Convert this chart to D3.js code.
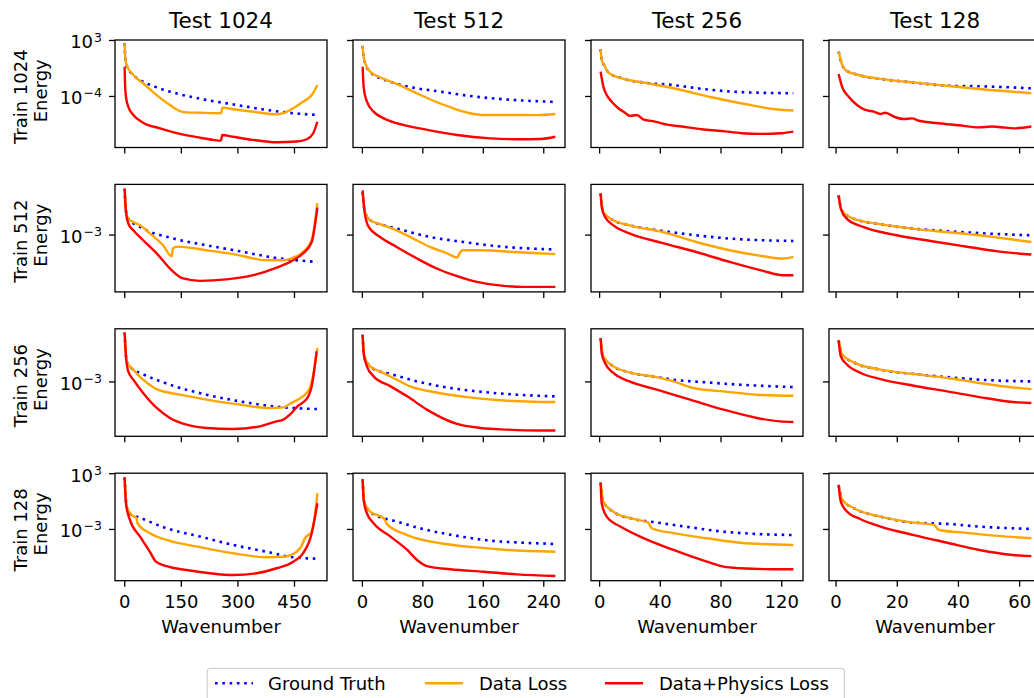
<!DOCTYPE html>
<html>
<head>
<meta charset="utf-8">
<script src="https://cdn.jsdelivr.net/npm/d3@7"></script>
<style>
	body { margin: 0; background: #fff; }
	text { font-family: "DejaVu Sans", sans-serif; fill: #000; }
</style>
</head>
<body>
<svg id="chart"></svg>
<script>
// ==================================================
// DATA
// ==================================================

var trainRes = [1024, 512, 256, 128];
var testRes  = [1024, 512, 256, 128];
var waveMax  = [512, 256, 128, 64];

var xTicks = [[0, 150, 300, 450], [0, 80, 160, 240], [0, 40, 80, 120], [0, 20, 40, 60]];
var yTicks = [[1e3, 1e-4], [1e-3], [1e-3], [1e3, 1e-3]];
var yDomains = [[3.6e-11, 1e3], [1.8e-9, 107], [3.2e-9, 186], [2.7e-9, 1e3]];

var seriesNames = ["Ground Truth", "Data Loss", "Data+Physics Loss"];

// [wavenumber, energy] -- named <series>_<train>_<test>

// Train 1024
var gt_1024_1024 = [[1,4e2],[2,2e1],[3,5],[6,7.5e-1],[24,4e-2],[42,1e-2],[86,1.2e-3],[148,1.6e-4],[218,3.2e-5],[298,7.5e-6],[378,1.8e-6],[448,7e-7],[512,4.2e-7]];
var dl_1024_1024 = [[1,4e2],[2,2e1],[3,5],[6,7.5e-1],[24,4.2e-2],[50,3.9e-3],[86,1.3e-4],[121,7.5e-6],[148,1.3e-6],[165,9e-7],[201,8e-7],[257,7e-7],[260,3.5e-6],[289,2.2e-6],[342,1.1e-6],[404,5e-7],[421,7e-7],[448,2.9e-6],[474,1.9e-5],[497,1.3e-4],[512,2.4e-3]];
var dp_1024_1024 = [[1,4.6e-1],[2,4e-3],[4.5,8e-5],[10.6,4.6e-6],[24,4.2e-7],[50,4.6e-8],[95,9e-9],[148,1.8e-9],[201,6e-10],[236,3.2e-10],[256,2.6e-10],[260,1.3e-9],[289,8e-10],[342,3.2e-10],[404,1.6e-10],[457,2e-10],[484,3.9e-10],[501,2.2e-9],[512,6e-8]];

var gt_1024_512 = [[1,1.8e2],[2.3,8],[4.5,1.2],[11,1e-1],[38,6e-3],[68,1.1e-3],[104,3.5e-4],[143,1e-4],[187,3.9e-5],[223,2.4e-5],[256,1.8e-5]];
var dl_1024_512 = [[1,1.8e2],[2.3,8],[4.5,1.2],[11,1.1e-1],[24,2.2e-2],[46,3.2e-3],[68,3.5e-4],[90,3.9e-5],[117,3.9e-6],[143,7e-7],[161,4.2e-7],[201,4.2e-7],[232,4e-7],[256,5.6e-7]];
var dp_1024_512 = [[1,4.6e-1],[2.3,1.5e-3],[6.7,1.9e-5],[15.5,1.1e-6],[29,1.6e-7],[46,3.9e-8],[82,7e-9],[126,1.3e-9],[170,5e-10],[205,3.9e-10],[236,4.2e-10],[256,8e-10]];

var gt_1024_256 = [[1,7e1],[1.7,3.2],[3.9,4.6e-1],[6,9e-2],[15,1.6e-2],[30,4.6e-3],[48,2.4e-3],[70,6.9e-4],[96,2.9e-4],[128,2.2e-4]];
var dl_1024_256 = [[1,7e1],[1.7,3.2],[3.9,4.6e-1],[6,9e-2],[15,1.6e-2],[30,4.6e-3],[52,6.9e-4],[74,6.9e-5],[96,1e-5],[116,2.2e-6],[128,1.5e-6]];
var dp_1024_256 = [[1,1.1e-1],[2.8,1.5e-3],[5,1.3e-4],[8.3,1.9e-5],[12.7,2.9e-6],[17,8e-7],[20.4,3.2e-7],[24.8,4.2e-7],[29,1.2e-7],[36.8,6.2e-8],[45.6,2.4e-8],[54.4,1.5e-8],[67.6,7e-9],[80.8,4.2e-9],[94,2.2e-9],[107,1.8e-9],[120,2.2e-9],[128,3.5e-9]];

var gt_1024_128 = [[1,3.5e1],[2,1.2],[3.2,1.8e-1],[7.5,4.2e-2],[15.2,1.3e-2],[26,4.6e-3],[37,1.9e-3],[47.9,1.6e-3],[64,9e-4]];
var dl_1024_128 = [[1,3.5e1],[2,1.2],[3.2,1.8e-1],[7.5,4.2e-2],[15.2,1.3e-2],[26,4.6e-3],[37,1.8e-3],[47.9,6.9e-4],[64,2.2e-4]];
var dp_1024_128 = [[1,5.6e-2],[2.1,1.5e-3],[4.3,8e-5],[7,7.5e-6],[9.7,1.8e-6],[12.5,1.1e-6],[14.6,5.6e-7],[16.2,8e-7],[19.5,2.2e-7],[22.3,1.3e-7],[25,1.6e-7],[27.2,8e-8],[33.7,3.9e-8],[40.2,2.2e-8],[46.8,1.2e-8],[51.1,1.5e-8],[55.5,1.1e-8],[58.2,9e-9],[64,1.5e-8]];

// Train 512
var gt_512_1024 = [[1,4e1],[4.5,2.7e-1],[10.6,4e-2],[42,5.8e-3],[130,4e-4],[218,8.5e-5],[307,2.1e-5],[395,5e-6],[512,1.8e-6]];
var dl_512_1024 = [[1,4e1],[4.5,2.7e-1],[10.6,4e-2],[24,1.8e-2],[42,8.5e-3],[68,1.3e-3],[103,8.5e-5],[126,6.8e-6],[129,4e-5],[140,6e-5],[152,5.8e-5],[218,2.7e-5],[289,1.1e-5],[378,2.7e-6],[421,2.7e-6],[448,5e-6],[474,1.8e-5],[497,2.7e-4],[512,1.4]];
var dp_512_1024 = [[1,4e1],[4.5,1.8e-1],[10.6,1.3e-2],[24,2.7e-3],[50,2.7e-4],[86,1.3e-5],[121,4e-7],[156,4e-8],[201,2.3e-8],[271,3.2e-8],[342,8.5e-8],[404,5e-7],[448,2.7e-6],[474,1.3e-5],[497,1.8e-4],[512,5e-1]];

var gt_512_512 = [[1,1.8e1],[3.6,2.7e-1],[11,2.7e-2],[29,8.5e-3],[46,4e-3],[90,5.8e-4],[135,1.8e-4],[179,6.8e-5],[223,4e-5],[256,3.2e-5]];
var dl_512_512 = [[1,1.8e1],[3.6,2.7e-1],[11,2.7e-2],[29,8.5e-3],[46,2.7e-3],[68,4e-4],[90,5.8e-5],[113,1.3e-5],[126,5e-6],[129,1.2e-5],[133,2.7e-5],[157,2.7e-5],[201,1.8e-5],[256,1.1e-5]];
var dp_512_512 = [[1,2.7e1],[3.6,1.8e-1],[9,5.8e-3],[24,5.8e-4],[46,5.8e-5],[73,4e-6],[99,4e-7],[126,6.8e-8],[152,1.8e-8],[179,8.5e-9],[214,5.8e-9],[256,5.8e-9]];

var gt_512_256 = [[1,1.4e1],[2.8,1.8e-1],[9.4,2.7e-2],[20,8.5e-3],[42,2.3e-3],[64,8.5e-4],[86,4e-4],[108,2.7e-4],[128,2.3e-4]];
var dl_512_256 = [[1,1.4e1],[2.8,1.8e-1],[9.4,2.7e-2],[20,8.5e-3],[42,1.8e-3],[64,1.8e-4],[86,2.7e-5],[108,6.8e-6],[121,4e-6],[128,5.8e-6]];
var dp_512_256 = [[1,1.4e1],[1.7,5.8e-1],[3.9,5.8e-2],[9.4,8.5e-3],[20,1.3e-3],[42,1.4e-4],[64,1.8e-5],[86,1.8e-6],[108,2.3e-7],[121,8.5e-8],[128,8.5e-8]];

var gt_512_128 = [[1,8.5],[2,2.7e-1],[5.8,4e-2],[14.5,1.1e-2],[25,4e-3],[36,2.3e-3],[47,1.4e-3],[64,8.5e-4]];
var dl_512_128 = [[1,8.5],[2,2.7e-1],[5.8,4e-2],[14.5,1.1e-2],[25,4e-3],[36,1.8e-3],[47,8.5e-4],[58,3.2e-4],[64,1.8e-4]];
var dp_512_128 = [[1,8.5],[1.7,4e-1],[3.6,4e-2],[9,5.8e-3],[20,8.5e-4],[31,2.3e-4],[42,6.8e-5],[53,2.1e-5],[64,1e-5]];

// Train 256
var gt_256_1024 = [[1,8e1],[6.4,1e-1],[24,1.5e-2],[42,7e-3],[130,3.7e-4],[218,4.7e-5],[307,1e-5],[395,3.2e-6],[512,1.7e-6]];
var dl_256_1024 = [[1,8e1],[6.4,1e-1],[24,1.5e-2],[50,1.5e-3],[86,1.7e-4],[148,4.7e-5],[218,1.5e-5],[307,4.7e-6],[378,2.2e-6],[422,2.5e-6],[439,5.9e-6],[457,1.3e-5],[474,3.2e-5],[492,2.2e-4],[505,3.2e-2],[512,2.2]];
var dp_256_1024 = [[1,8e1],[4.5,3.2e-1],[10.6,1e-2],[24,1.5e-3],[50,7e-5],[86,2.2e-6],[121,2.2e-7],[165,4.7e-8],[218,2.2e-8],[289,1.7e-8],[360,3.2e-8],[404,1e-7],[422,1.5e-7],[439,4.7e-7],[461,3.7e-6],[474,8e-6],[488,3.2e-5],[497,3.2e-4],[505,3.2e-2],[510,1]];

var gt_256_512 = [[1,4.7e1],[3.2,3.2e-1],[11,3.2e-2],[24,1e-2],[33,7e-3],[73,1e-3],[117,2.2e-4],[161,8.7e-5],[205,4.7e-5],[256,3.2e-5]];
var dl_256_512 = [[1,4.7e1],[3.2,3.2e-1],[11,3.2e-2],[24,1e-2],[46,1.5e-3],[64,3.2e-4],[95,8.7e-5],[139,2.7e-5],[183,1.3e-5],[227,9.3e-6],[256,8.7e-6]];
var dp_256_512 = [[1,4.7e1],[2.3,7e-1],[6.7,3.2e-2],[15.5,3.2e-3],[38,3.2e-4],[60,3.2e-5],[86,1.5e-6],[104,2.7e-7],[126,5.5e-8],[157,2.2e-8],[192,1.5e-8],[236,1.2e-8],[256,1.2e-8]];

var gt_256_256 = [[1,2.2e1],[2.8,3.2e-1],[9.4,3.2e-2],[20,8e-3],[38,2.7e-3],[49,1.5e-3],[71,8e-4],[93,4.7e-4],[128,2.7e-4]];
var dl_256_256 = [[1,2.2e1],[2.8,3.2e-1],[9.4,3.2e-2],[20,8e-3],[38,2.7e-3],[49,1e-3],[62,2.2e-4],[82,1e-4],[104,4.7e-5],[128,3.7e-5]];
var dp_256_256 = [[1,2.2e1],[1.7,7e-1],[3.9,7e-2],[9.4,7e-3],[20,1e-3],[38,1.5e-4],[60,1.5e-5],[82,1.5e-6],[104,2.2e-7],[119,1e-7],[128,8.7e-8]];

var gt_256_128 = [[1,1.3e1],[2.2,4.7e-1],[6,8e-2],[14.7,1.5e-2],[25.6,5.5e-3],[36.5,2.7e-3],[47,1.5e-3],[64,1e-3]];
var dl_256_128 = [[1,1.3e1],[2.2,4.7e-1],[6,8e-2],[14.7,1.5e-2],[25.6,5.5e-3],[36.5,2.2e-3],[47,7e-4],[58,2.5e-4],[64,1.7e-4]];
var dp_256_128 = [[1,1.3e1],[1.7,3.2e-1],[3.8,4.7e-2],[8.2,7e-3],[14.7,1.7e-3],[25.6,3.7e-4],[36.5,1e-4],[47,2.7e-5],[58,8.7e-6],[64,7e-6]];

// Train 128
var gt_128_1024 = [[1,3.7e2],[6.4,2.5e-1],[19.6,3.2e-2],[33,2.1e-2],[112,1.2e-3],[201,1.5e-4],[289,1.9e-5],[378,3.5e-6],[448,8.9e-7],[512,6.3e-7]];
var dl_128_1024 = [[1,3.7e2],[6.4,2.5e-1],[19.6,3.2e-2],[33,1.4e-2],[35,4.1e-3],[68,3.5e-4],[112,6.5e-5],[201,1.1e-5],[289,2.4e-6],[378,8.9e-7],[421,1e-6],[457,3.5e-6],[470,1.5e-5],[479,1e-4],[497,5.1e-4],[505,2.1e-2],[512,7.1]];
var dp_128_1024 = [[1,3.7e2],[4.5,5.9e-1],[15,9.3e-3],[42,1.5e-4],[68,3.5e-6],[84,3e-7],[112,1e-7],[165,3.8e-8],[227,1.7e-8],[289,1.1e-8],[351,1.7e-8],[404,5.9e-8],[448,3e-7],[474,2.4e-6],[497,3.5e-4],[505,1.4e-2],[512,5.9e-1]];

var gt_128_512 = [[1,2.3e2],[3.2,8.7e-1],[11,7.2e-2],[29,1.4e-2],[38,9.3e-3],[82,9.3e-4],[126,1.8e-4],[170,5.5e-5],[214,3.3e-5],[256,2.4e-5]];
var dl_128_512 = [[1,2.3e2],[3.2,8.7e-1],[11,7.2e-2],[29,1.4e-2],[33,3.5e-3],[60,2.2e-4],[104,2.9e-5],[148,1.1e-5],[192,5.5e-6],[256,3.5e-6]];
var dp_128_512 = [[1,2.3e2],[2.3,1.3],[6.7,4.9e-2],[15.5,4.1e-3],[38,1.5e-4],[60,5.5e-6],[73,4.6e-7],[86,1e-7],[117,4.6e-8],[161,2.5e-8],[205,1.3e-8],[256,8.7e-9]];

var gt_128_256 = [[1,9.8e1],[2.8,8.7e-1],[9.4,7.2e-2],[22.5,1.2e-2],[38,5e-3],[60,1.5e-3],[82,5.1e-4],[104,2.9e-4],[128,2.2e-4]];
var dl_128_256 = [[1,9.8e1],[2.8,8.7e-1],[9.4,7.2e-2],[22.5,1.2e-2],[32.4,4.8e-3],[34.6,1.2e-3],[49,3.5e-4],[71,1e-4],[93,3.3e-5],[128,1.9e-5]];
var dp_128_256 = [[1,9.8e1],[1.7,5.9e-1],[5,2.1e-2],[14,1.8e-3],[27,1.5e-4],[49,5.5e-6],[71,3e-7],[82,8.7e-8],[93,5.9e-8],[115,4.6e-8],[128,4.6e-8]];

var gt_128_128 = [[1,5.5e1],[2.2,1.3],[6,1.7e-1],[14.7,2.1e-2],[25.6,4.8e-3],[36.5,3.5e-3],[47,1.8e-3],[64,1e-3]];
var dl_128_128 = [[1,5.5e1],[2.2,1.3],[6,1.7e-1],[14.7,2.1e-2],[25.6,4.8e-3],[32.2,2.7e-3],[33.8,7.8e-4],[42,4e-4],[53,1.8e-4],[64,1e-4]];
var dp_128_128 = [[1,5.5e1],[1.7,8.7e-1],[3.8,7.2e-2],[8.2,1.1e-2],[14.7,1.8e-3],[25.6,2.2e-4],[36.5,3.3e-5],[47,5.5e-6],[58,1.6e-6],[64,1.2e-6]];

// Panel lookup [row][col] -> [truth, data loss, data+physics loss]
var panels = [
	[[gt_1024_1024, dl_1024_1024, dp_1024_1024], [gt_1024_512, dl_1024_512, dp_1024_512], [gt_1024_256, dl_1024_256, dp_1024_256], [gt_1024_128, dl_1024_128, dp_1024_128]],
	[[gt_512_1024, dl_512_1024, dp_512_1024], [gt_512_512, dl_512_512, dp_512_512], [gt_512_256, dl_512_256, dp_512_256], [gt_512_128, dl_512_128, dp_512_128]],
	[[gt_256_1024, dl_256_1024, dp_256_1024], [gt_256_512, dl_256_512, dp_256_512], [gt_256_256, dl_256_256, dp_256_256], [gt_256_128, dl_256_128, dp_256_128]],
	[[gt_128_1024, dl_128_1024, dp_128_1024], [gt_128_512, dl_128_512, dp_128_512], [gt_128_256, dl_128_256, dp_128_256], [gt_128_128, dl_128_128, dp_128_128]]
];


// ==================================================
// LAYOUT
// ==================================================

var width = 1034, height = 698;
var margin = { left: 115, top: 40 };
var panelW = 212, panelH = 107.5;
var colStep = 238, rowStep = 144.4;

var fontSize = 18, titleSize = 21.5, supSize = 12.5;

var styles = [
	{ color: "#0000ff", width: 2.6, dash: "2.6,4.7" },
	{ color: "#ffa500", width: 2.4, dash: null },
	{ color: "#ff0000", width: 2.4, dash: null }
];

var svg = d3.select("#chart")
	.attr("width", width)
	.attr("height", height);


// ==================================================
// PANELS
// ==================================================

trainRes.forEach(function(tr, r) {
	testRes.forEach(function(te, c) {
		var left = margin.left + c * colStep;
		var top  = margin.top + r * rowStep;
		var M    = waveMax[c];

		var x = d3.scaleLinear()
			.domain([1 - 0.05 * (M - 1), M + 0.05 * (M - 1)])
			.range([0, panelW]);

		var y = d3.scaleLog()
			.domain(yDomains[r])
			.range([panelH, 0]);

		var g = svg.append("g")
			.attr("transform", "translate(" + left + "," + top + ")");

		var clipId = "clip-" + r + "-" + c;
		g.append("clipPath")
			.attr("id", clipId)
			.append("rect")
				.attr("width", panelW)
				.attr("height", panelH);

		var line = d3.line()
			.x(function(d) { return x(d[0]); })
			.y(function(d) { return y(d[1]); })
			.curve(d3.curveMonotoneX);

		// Curves
		g.append("g")
			.attr("clip-path", "url(#" + clipId + ")")
			.selectAll("path")
			.data(panels[r][c])
			.enter()
				.append("path")
					.attr("d", line)
					.attr("fill", "none")
					.attr("stroke", function(d, i) { return styles[i].color; })
					.attr("stroke-width", function(d, i) { return styles[i].width; })
					.attr("stroke-dasharray", function(d, i) { return styles[i].dash; })
					.attr("stroke-linejoin", "round");

		// X axis
		var xAxis = g.append("g")
			.attr("transform", "translate(0," + panelH + ")")
			.call(d3.axisBottom(x).tickValues(xTicks[c]).tickSize(6).tickFormat(d3.format("d")));

		xAxis.select(".domain").remove();
		xAxis.selectAll("line").attr("stroke", "#000").attr("stroke-width", 1.3);
		xAxis.selectAll("text")
			.attr("y", 27.6)
			.attr("dy", null)
			.attr("font-size", fontSize)
			.attr("font-family", "DejaVu Sans")
			.text(function(d) { return r == 3 ? d : ""; });

		// Y axis
		var yAxis = g.append("g")
			.call(d3.axisLeft(y).tickValues(yTicks[r]).tickSize(6).tickFormat(""));

		yAxis.select(".domain").remove();
		yAxis.selectAll("line").attr("stroke", "#000").attr("stroke-width", 1.3);

		if (c == 0) {
			yAxis.selectAll(".tick text").each(function(d) {
				var t = d3.select(this)
					.attr("x", -13)
					.attr("y", 7.8)
					.attr("dy", null)
					.attr("font-size", fontSize)
					.attr("font-family", "DejaVu Sans")
					.attr("text-anchor", "end");
				var p = Math.round(Math.log10(d));
				t.append("tspan").text("10");
				t.append("tspan")
					.attr("dy", -6.8)
					.attr("dx", 1)
					.attr("font-size", supSize)
					.text(String(p).replace("-", "\u2212"));
			});

			// Row label
			var cy = panelH / 2;
			g.append("text")
				.attr("transform", "translate(" + (26.7 - left) + "," + (cy + 3) + ") rotate(-90)")
				.attr("text-anchor", "middle")
				.attr("font-size", fontSize)
				.text("Train " + tr);
			g.append("text")
				.attr("transform", "translate(" + (46.7 - left) + "," + (cy - 3) + ") rotate(-90)")
				.attr("text-anchor", "middle")
				.attr("font-size", fontSize)
				.text("Energy");
		}

		// Frame
		g.append("rect")
			.attr("width", panelW)
			.attr("height", panelH)
			.attr("fill", "none")
			.attr("stroke", "#000")
			.attr("stroke-width", 1.3);

		// Column title
		if (r == 0) {
			g.append("text")
				.attr("x", panelW / 2)
				.attr("y", -11.7)
				.attr("text-anchor", "middle")
				.attr("font-size", titleSize)
				.text("Test " + te);
		}

		// X label
		if (r == 3) {
			g.append("text")
				.attr("x", panelW / 2)
				.attr("y", panelH + 52.6)
				.attr("text-anchor", "middle")
				.attr("font-size", fontSize)
				.text("Wavenumber");
		}
	});
});


// ==================================================
// LEGEND
// ==================================================

var legendX = [215, 425, 605];
var legendTextX = [268, 479, 659];
var legendY = 683.3;

var legend = svg.append("g");

legend.append("rect")
	.attr("x", 207.3)
	.attr("y", 668.3)
	.attr("width", 637)
	.attr("height", 44)
	.attr("rx", 3)
	.attr("fill", "#fff")
	.attr("stroke", "#d5d5d5")
	.attr("stroke-width", 1.3);

seriesNames.forEach(function(name, i) {
	legend.append("line")
		.attr("x1", legendX[i])
		.attr("x2", legendX[i] + 38)
		.attr("y1", legendY)
		.attr("y2", legendY)
		.attr("stroke", styles[i].color)
		.attr("stroke-width", styles[i].width)
		.attr("stroke-dasharray", styles[i].dash);

	legend.append("text")
		.attr("x", legendTextX[i])
		.attr("y", 690)
		.attr("font-size", fontSize)
		.text(name);
});
</script>
</body>
</html>
